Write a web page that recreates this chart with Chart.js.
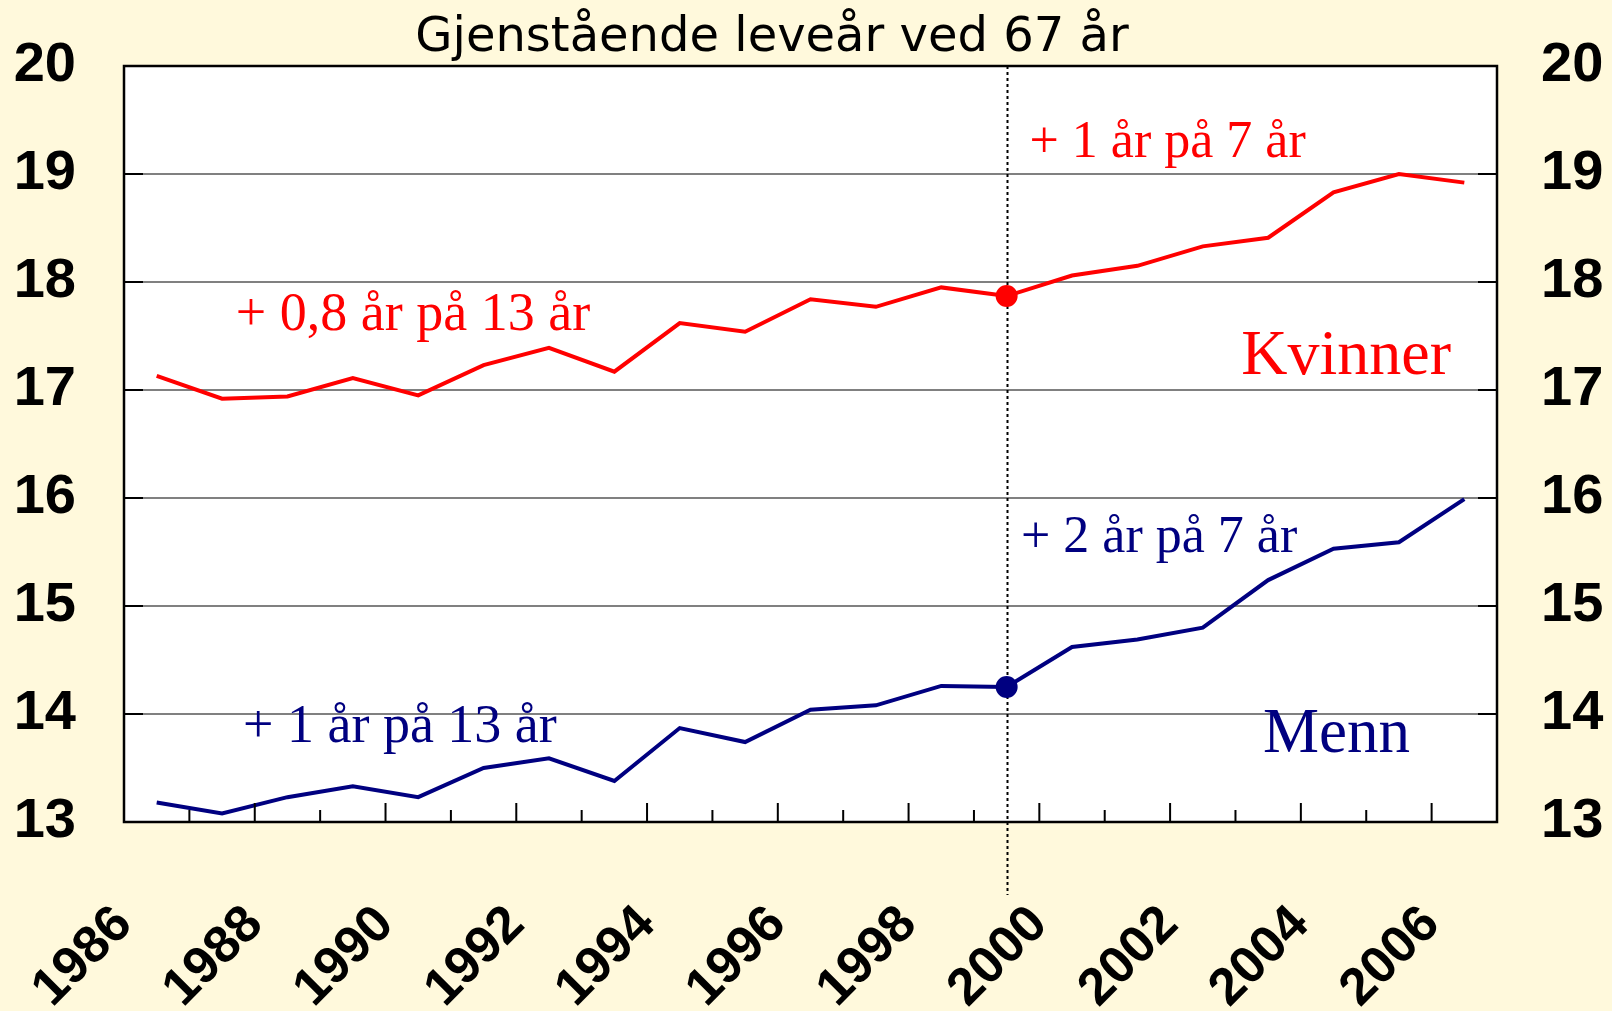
<!DOCTYPE html>
<html>
<head>
<meta charset="utf-8">
<script src="https://cdn.jsdelivr.net/npm/chart.js@4.4.1/dist/chart.umd.min.js"></script>
<style>
	body { margin: 0; background: #fff9dc; }
	.chart-wrapper { width: 1612px; height: 1011px; }
</style>
</head>
<body>
<div class="chart-wrapper"><canvas id="chart" width="1612" height="1011"></canvas></div>
<script>
const title = "Gjenstående leveår ved 67 år";
const years = [1986, 1987, 1988, 1989, 1990, 1991, 1992, 1993, 1994, 1995, 1996,
	1997, 1998, 1999, 2000, 2001, 2002, 2003, 2004, 2005, 2006];
const kvinner = [17.13, 16.92, 16.94, 17.11, 16.95, 17.23, 17.39, 17.17, 17.62, 17.54, 17.84,
	17.77, 17.95, 17.87, 18.06, 18.15, 18.33, 18.41, 18.83, 19.0, 18.92];
const menn = [13.18, 13.08, 13.23, 13.33, 13.23, 13.5, 13.59, 13.38, 13.87, 13.74, 14.04,
	14.08, 14.26, 14.25, 14.62, 14.69, 14.8, 15.24, 15.53, 15.59, 15.99];
const xTickLabels = [1986, 1988, 1990, 1992, 1994, 1996, 1998, 2000, 2002, 2004, 2006];
const yMin = 13;
const yMax = 20;
const markYear = 1999; // dotted line + dot

// text notes, placed in data units (year, value of the baseline)
const notes = [
	{ text: "+ 0,8 år på 13 år", year: 1987.71, value: 17.56, color: "#ff0000", size: 54 },
	{ text: "+ 1 år på 7 år", year: 1999.85, value: 19.16, color: "#ff0000", size: 52 },
	{ text: "Kvinner", year: 2003.09, value: 17.15, color: "#ff0000", size: 64 },
	{ text: "+ 2 år på 7 år", year: 1999.72, value: 15.5, color: "#000080", size: 52 },
	{ text: "Menn", year: 2003.42, value: 13.65, color: "#000080", size: 63 },
	{ text: "+ 1 år på 13 år", year: 1987.82, value: 13.74, color: "#000080", size: 54 },
];

// a year's value sits in the middle of its year slot
const toPoints = (vals) => vals.map((v, i) => ({ x: years[i] + 0.5, y: v }));
const dotRadius = (c) => (years[c.dataIndex] === markYear ? 9 : 0);

const decor = {
	id: "decor",
	beforeDraw(chart) {
		const { ctx, chartArea: a } = chart;
		ctx.save();
		ctx.fillStyle = "#ffffff";
		ctx.fillRect(a.left, a.top, a.right - a.left, a.bottom - a.top);
		ctx.restore();
	},
	beforeDatasetsDraw(chart) {
		const { ctx, chartArea: a, scales } = chart;
		const x = Math.round(scales.x.getPixelForValue(markYear + 0.5)) + 0.5;
		ctx.save();
		ctx.strokeStyle = "#000";
		ctx.lineWidth = 2;
		ctx.setLineDash([3, 3]);
		ctx.beginPath();
		ctx.moveTo(x, a.top);
		ctx.lineTo(x, a.bottom + 73);
		ctx.stroke();
		ctx.restore();
	},
	afterDatasetsDraw(chart) {
		const { ctx, chartArea: a, scales } = chart;
		ctx.save();
		ctx.strokeStyle = "#000";
		ctx.lineWidth = 2;
		ctx.beginPath();
		// ticks pointing into the plot
		for (let yr = years[0] + 1; yr <= years[years.length - 1]; yr++) {
			const px = scales.x.getPixelForValue(yr);
			const len = yr % 2 === 0 ? 19 : 12;
			ctx.moveTo(px, a.bottom);
			ctx.lineTo(px, a.bottom - len);
		}
		for (let v = yMin + 1; v < yMax; v++) {
			const py = scales.y.getPixelForValue(v);
			ctx.moveTo(a.left, py);
			ctx.lineTo(a.left + 19, py);
			ctx.moveTo(a.right, py);
			ctx.lineTo(a.right - 19, py);
		}
		ctx.stroke();
		ctx.lineWidth = 2.5;
		ctx.strokeRect(a.left, a.top, a.right - a.left, a.bottom - a.top);

		notes.forEach((n) => {
			ctx.fillStyle = n.color;
			ctx.font = n.size + 'px "Liberation Serif", "Times New Roman", serif';
			ctx.textAlign = "left";
			ctx.textBaseline = "alphabetic";
			ctx.fillText(n.text, scales.x.getPixelForValue(n.year), scales.y.getPixelForValue(n.value));
		});

		ctx.fillStyle = "#000";
		ctx.font = '48px "DejaVu Sans", Verdana, sans-serif';
		ctx.textAlign = "center";
		ctx.fillText(title, 772, 51);
		ctx.restore();
	},
};

const tickFont = (size) => ({ family: '"Liberation Sans", Arial, sans-serif', weight: "bold", size: size });

const ctx = document.getElementById("chart").getContext("2d");
const myChart = new Chart(ctx, {
	type: "line",
	data: {
		datasets: [
			{
				label: "Kvinner",
				data: toPoints(kvinner),
				borderColor: "#ff0000",
				backgroundColor: "#ff0000",
				borderWidth: 4,
				pointRadius: dotRadius,
				pointHoverRadius: dotRadius,
			},
			{
				label: "Menn",
				data: toPoints(menn),
				borderColor: "#000080",
				backgroundColor: "#000080",
				borderWidth: 4,
				pointRadius: dotRadius,
				pointHoverRadius: dotRadius,
			},
		],
	},
	options: {
		responsive: false,
		animation: false,
		devicePixelRatio: 1,
		layout: { padding: { top: 66, left: 0, right: 0, bottom: 0 } },
		plugins: {
			legend: { display: false },
			tooltip: { enabled: false },
		},
		scales: {
			x: {
				type: "linear",
				min: years[0],
				max: years[years.length - 1] + 1,
				grid: { display: false },
				border: { display: false },
				ticks: {
					stepSize: 1,
					autoSkip: false,
					minRotation: 45,
					maxRotation: 45,
					padding: 64,
					color: "#000",
					font: tickFont(52),
					callback: (v) => (xTickLabels.includes(v) ? String(v) : ""),
				},
				afterFit: (s) => { s.height = 189; s.paddingLeft = 0; s.paddingRight = 0; },
			},
			y: {
				position: "left",
				min: yMin,
				max: yMax,
				grid: { color: "#808080", lineWidth: 2, drawTicks: false },
				border: { display: false },
				ticks: { stepSize: 1, padding: 48, color: "#000", font: tickFont(56) },
				afterFit: (s) => { s.width = 124; s.paddingTop = 0; s.paddingBottom = 0; },
			},
			y2: {
				position: "right",
				min: yMin,
				max: yMax,
				grid: { display: false, drawTicks: false },
				border: { display: false },
				ticks: { stepSize: 1, padding: 44, color: "#000", font: tickFont(56) },
				afterFit: (s) => { s.width = 115; s.paddingTop = 0; s.paddingBottom = 0; },
			},
		},
	},
	plugins: [decor],
});
</script>
</body>
</html>
